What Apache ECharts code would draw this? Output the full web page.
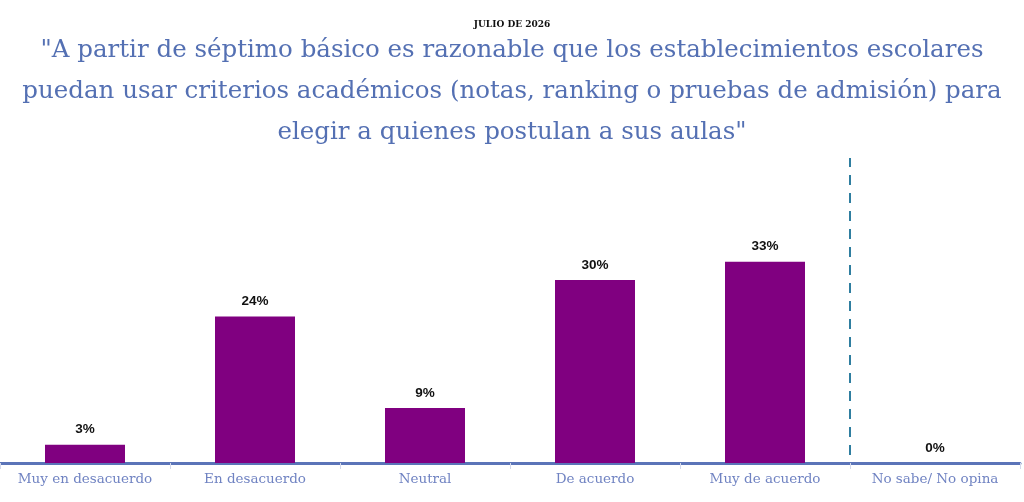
<!DOCTYPE html>
<html>
<head>
<meta charset="utf-8">
<script src="https://cdn.jsdelivr.net/npm/echarts@6/dist/echarts.min.js"></script>
<style>
  html, body { margin: 0; padding: 0; background: #fff; }
  #chart { width: 1024px; height: 502px; }
</style>
</head>
<body>
<div id="chart"></div>
<script>
var categories = ['Muy en desacuerdo', 'En desacuerdo', 'Neutral', 'De acuerdo', 'Muy de acuerdo', 'No sabe/ No opina'];
var values = [3, 24, 9, 30, 33, 0];
var separatorAt = [5]; // boundary before "No sabe/ No opina"
var titleLines = [
    '"A partir de séptimo básico es razonable que los establecimientos escolares',
    'puedan usar criterios académicos (notas, ranking o pruebas de admisión) para',
    'elegir a quienes postulan a sus aulas"'
];

var titleStyle = { fontFamily: 'DejaVu Serif', fontSize: 24.5, fontWeight: 'normal', color: '#5470b3' };
var titles = [{
    text: 'JULIO DE 2026',
    left: 'center',
    top: 15,
    textStyle: { fontFamily: 'DejaVu Serif', fontSize: 9, fontWeight: 'bold', color: '#111' }
}];
titleLines.forEach(function (line, i) {
    titles.push({ text: line, left: 'center', top: 33 + i * 41, textStyle: titleStyle });
});

var chart = echarts.init(document.getElementById('chart'));
var option = {
    animation: false,
    title: titles,
    grid: { left: 0, right: 4, top: 158, bottom: 39 },
    xAxis: [{
        type: 'category',
        data: categories,
        axisLine: { lineStyle: { color: '#5b74b8', width: 3 } },
        axisTick: { show: true, length: 6, lineStyle: { color: '#d3d9ec' } },
        axisLabel: { interval: 0, fontFamily: 'DejaVu Serif', fontSize: 13.5, color: '#7083c2', margin: 9 }
    }, {
        type: 'value', min: 0, max: categories.length, show: false
    }],
    yAxis: { type: 'value', min: 0, max: 50, show: false, splitLine: { show: false } },
    series: [{
        type: 'bar',
        data: values,
        barWidth: 80,
        itemStyle: { color: '#800080' },
        label: {
            show: true,
            position: 'top',
            formatter: '{c}%',
            fontFamily: 'Liberation Sans',
            fontWeight: 'bold',
            fontSize: 13.5,
            color: '#111',
            distance: 8
        }
    }, {
        type: 'line',
        xAxisIndex: 1,
        data: [],
        markLine: {
            symbol: 'none',
            silent: true,
            label: { show: false },
            lineStyle: { color: '#2f7ea0', type: [10, 8], dashOffset: 10, width: 2 },
            data: separatorAt.map(function (v) { return { xAxis: v }; })
        }
    }]
};
chart.setOption(option);
</script>
</body>
</html>
